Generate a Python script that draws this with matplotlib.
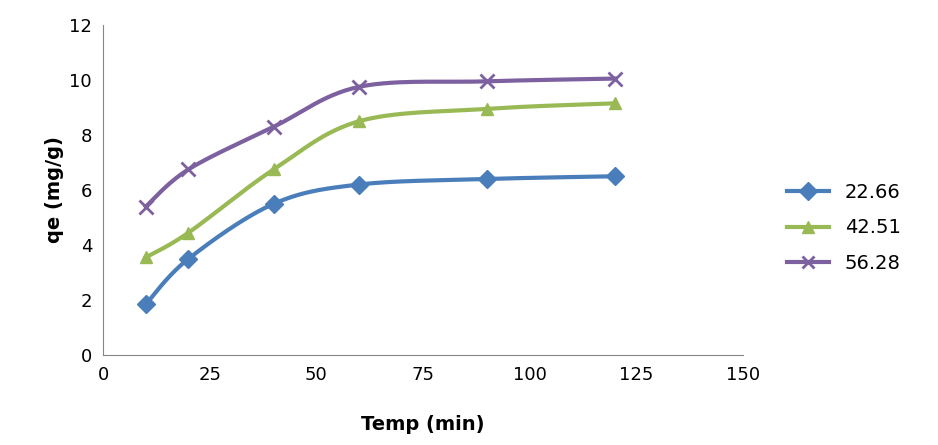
import matplotlib
matplotlib.use("Agg")
import matplotlib.pyplot as plt
import numpy as np

time_min = [10, 20, 40, 60, 90, 120]
labels = ["22.66", "42.51", "56.28"]
qe_2266 = [1.85, 3.5, 5.5, 6.2, 6.4, 6.5]
qe_4251 = [3.55, 4.45, 6.75, 8.5, 8.95, 9.15]
qe_5628 = [5.4, 6.75, 8.3, 9.75, 9.95, 10.05]

colors = ["#4A7EBB", "#98B954", "#7D60A0"]
markers = ["D", "^", "x"]


def smooth(x, y, n=30):
    # Catmull-Rom curve through the points (Excel-like smoothed line)
    p = np.column_stack([x, y]).astype(float)
    p = np.vstack([p[0], p, p[-1]])
    out = []
    t = np.linspace(0, 1, n)[:, None]
    for i in range(1, len(p) - 2):
        p0, p1, p2, p3 = p[i - 1], p[i], p[i + 1], p[i + 2]
        seg = 0.5 * ((2 * p1) + (-p0 + p2) * t + (2 * p0 - 5 * p1 + 4 * p2 - p3) * t**2
                     + (-p0 + 3 * p1 - 3 * p2 + p3) * t**3)
        out.append(seg)
    out = np.vstack(out)
    return out[:, 0], out[:, 1]


fig = plt.figure(figsize=(9.38, 4.45), dpi=100)
ax = fig.add_axes([0.11, 0.202, 0.682, 0.742])

for ys, lab, c, m in zip([qe_2266, qe_4251, qe_5628], labels, colors, markers):
    sx, sy = smooth(time_min, ys)
    ax.plot(sx, sy, color=c, lw=3)
    ax.plot(time_min, ys, ls="none", marker=m, color=c, ms=9 if m != "x" else 10,
            mew=2 if m == "x" else 1)
    ax.plot([], [], color=c, lw=3, marker=m, ms=9, mew=2 if m == "x" else 1, label=lab)

ax.set_xlim(0, 150)
ax.set_ylim(0, 12)
ax.set_xticks(range(0, 151, 25))
ax.set_yticks(range(0, 13, 2))
ax.tick_params(labelsize=13, length=0, pad=8)
for s in ["top", "right"]:
    ax.spines[s].set_visible(False)
for s in ["left", "bottom"]:
    ax.spines[s].set_color("#868686")
ax.set_xlabel("Temp (min)", fontsize=14, fontweight="bold", labelpad=22)
ax.set_ylabel("qe (mg/g)", fontsize=14, fontweight="bold")
fig.legend(loc="center left", bbox_to_anchor=(0.82, 0.488), frameon=False,
           fontsize=14, handlelength=2.2, labelspacing=0.85)

fig.savefig("out.png", dpi=100)
